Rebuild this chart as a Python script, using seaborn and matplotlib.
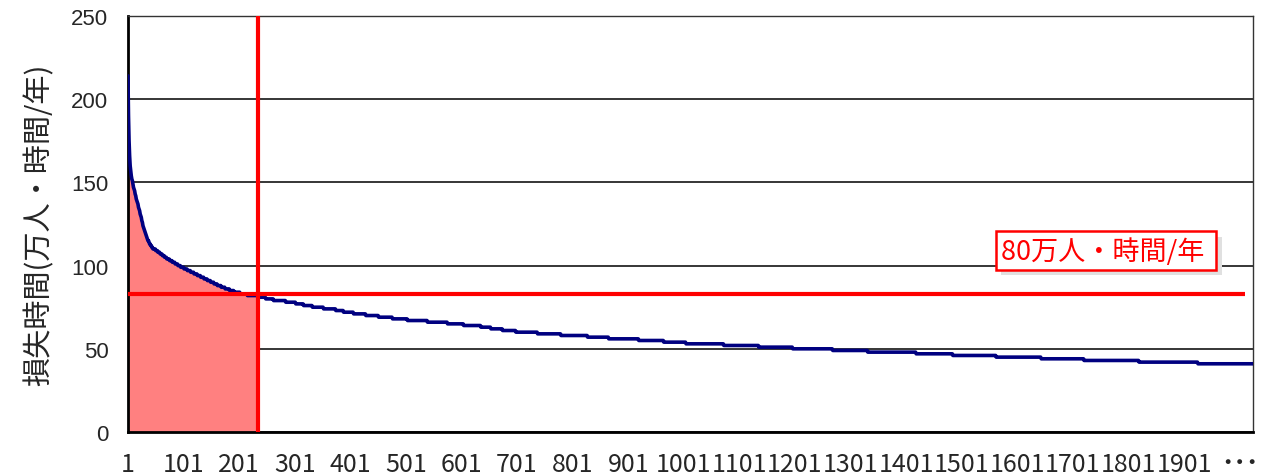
import numpy as np
import pandas as pd
import matplotlib
matplotlib.use('Agg')
import matplotlib.pyplot as plt
import matplotlib.patheffects as pe
import seaborn as sns

# values: top ranks one by one, then integer levels with the rank where each ends
head_values = [214, 190, 175, 166, 160, 157, 154, 152, 151, 149, 147, 146, 145, 143, 142,
               140, 139, 138, 137, 135, 134, 133, 131, 130, 129, 127, 126, 124, 123, 122,
               121, 120, 119, 118, 117, 116, 115, 115, 114, 113, 113, 112, 112, 111, 111]
tail_levels = [110, 109, 108, 107, 106, 105, 104, 103, 102, 101, 100, 99, 98, 97, 96, 95,
               94, 93, 92, 91, 90, 89, 88, 87, 86, 85, 84, 83, 82, 81, 80, 79, 78, 77, 76,
               75, 74, 73, 72, 71, 70, 69, 68, 67, 66, 65, 64, 63, 62, 61, 60, 59, 58, 57,
               56, 55, 54, 53, 52, 51, 50, 49, 48, 47, 46, 45, 44, 43, 42, 41]
tail_end_rank = [50, 54, 58, 62, 66, 70, 75, 80, 85, 90, 95, 101, 107, 113, 119, 125,
                 131, 137, 143, 149, 155, 161, 168, 175, 183, 191, 202, 215, 236, 248, 262,
                 284, 302, 316, 332, 352, 374, 388, 406, 428, 451, 476, 503, 539, 575, 604,
                 635, 653, 674, 698, 737, 779, 827, 865, 919, 964, 1004, 1072, 1135, 1196,
                 1268, 1331, 1418, 1484, 1562, 1643, 1720, 1819, 1925, 2025]

threshold = 83
cut_rank = 235
x_ticks = [1, 101, 201, 301, 401, 501, 601, 701, 801, 901, 1001, 1101, 1201, 1301,
           1401, 1501, 1601, 1701, 1801, 1901, 2001]
x_labels = ['1', '101', '201', '301', '401', '501', '601', '701', '801', '901', '1001',
            '1101', '1201', '1301', '1401', '1501', '1601', '1701', '1801', '1901', '･･･']
y_label = '損失時間(万人・時間/年)'
note = '80万人・時間/年'

# build ranked table
counts = np.diff([len(head_values)] + tail_end_rank)
values = np.concatenate([head_values, np.repeat(tail_levels, counts)])
df = pd.DataFrame({'rank': np.arange(1, len(values) + 1), 'loss': values})

sns.set_style('white')
plt.rcParams['font.family'] = ['Noto Sans CJK JP', 'DejaVu Sans']

fig = plt.figure(figsize=(12.63, 4.77), dpi=100)
ax = fig.add_axes([0.1013, 0.0922, 0.8908, 0.8722])

sub = df[df['rank'] <= cut_rank]
ax.fill_between(sub['rank'], sub['loss'], color='#FF8080', lw=0, zorder=1)
sns.lineplot(data=df, x='rank', y='loss', color='#000080', lw=2.6, ax=ax, zorder=4)
ax.axvline(cut_rank, color='#FF0000', lw=3, zorder=5)
ax.hlines(threshold, 1, 2010, color='#FF0000', lw=3, zorder=5)

ax.set_xlim(1, len(values))
ax.set_ylim(0, 250)
ax.set_yticks([0, 50, 100, 150, 200, 250])
ax.yaxis.grid(True, color='black', lw=1.1)
ax.set_axisbelow(True)
ax.set_xticks(x_ticks)
ax.set_xticklabels(x_labels, family=['Liberation Sans Narrow', 'Noto Sans CJK JP'], fontsize=18)
ax.get_xticklabels()[-1].set_fontweight('bold')
for t in ax.get_yticklabels():
    t.set_family(['Liberation Sans', 'DejaVu Sans'])
    t.set_fontsize(16)
ax.tick_params(axis='x', length=0, pad=14)
ax.tick_params(axis='y', length=0, pad=14)
ax.set_xlabel('')
ax.set_ylabel(y_label, fontsize=21, labelpad=12)

for s in ['left', 'bottom']:
    ax.spines[s].set_linewidth(2)
    ax.spines[s].set_color('black')
for s in ['top', 'right']:
    ax.spines[s].set_linewidth(1)
    ax.spines[s].set_color('#333333')

txt = ax.text(1572, 109, note + ' ', color='#FF0000', fontsize=19.5, va='center', ha='left',
              bbox=dict(boxstyle='square,pad=0.2', fc='white', ec='#FF0000', lw=1.8), zorder=6)
txt.get_bbox_patch().set_path_effects([pe.withSimplePatchShadow(offset=(4, -4), shadow_rgbFace='#E0E0E0', alpha=1)])

fig.savefig('out.png', dpi=100)
